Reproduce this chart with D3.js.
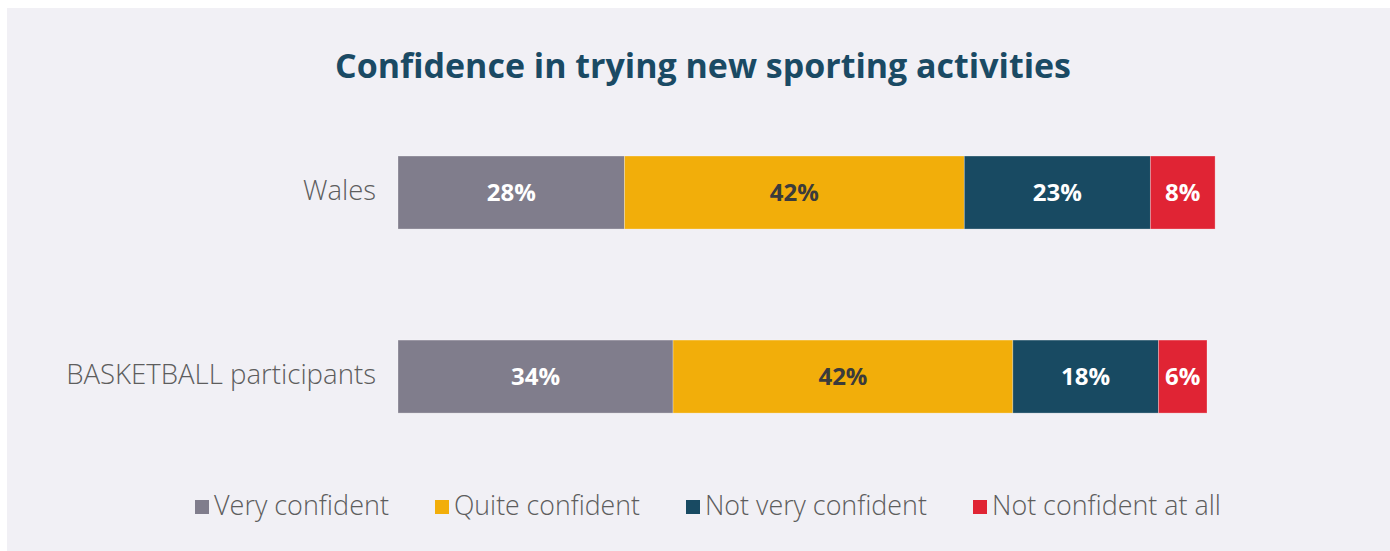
<!DOCTYPE html>
<html><head><meta charset="utf-8">
<script src="https://cdn.jsdelivr.net/npm/d3@7"></script>
<style>
html,body{margin:0;padding:0;background:#fff;}
svg{display:block;}
</style></head>
<body>
<svg id="chart" width="1390" height="551"></svg>
<script>
const title = "Confidence in trying new sporting activities";
const categories = ["Wales", "BASKETBALL participants"];
const seriesNames = ["Very confident", "Quite confident", "Not very confident", "Not confident at all"];
const seriesColors = ["#807d8c", "#f2ae0a", "#184a62", "#e02434"];
const labelColors = ["#ffffff", "#3b3b3b", "#ffffff", "#ffffff"];
const walesValues = [28, 42, 23, 8];
const basketballValues = [34, 42, 18, 6];
const valuesByCategory = [walesValues, basketballValues];

const svg = d3.select("#chart");
const W = 1390, H = 551;
const FONT = "'Open Sans', 'Noto Sans', sans-serif";

svg.append("rect").attr("x", 7).attr("y", 8).attr("width", W - 7).attr("height", H - 8).attr("fill", "#f1f0f5");

function fitText(sel, targetWidth) {
  const node = sel.node();
  const fs = parseFloat(sel.attr("font-size"));
  const w = node.getComputedTextLength();
  if (w > 0) sel.attr("font-size", fs * targetWidth / w);
  return sel;
}

// title
const t = svg.append("text").attr("x", 703).attr("y", 78).attr("text-anchor", "middle")
  .attr("font-family", FONT).attr("font-weight", 700).attr("font-size", 32)
  .attr("fill", "#1a4a64").text(title);
fitText(t, 736);

const x = d3.scaleLinear().domain([0, 100]).range([398, 1207]);
const y = d3.scaleBand().domain(categories).range([100.8, 468.3]).paddingInner(111 / 184).paddingOuter(0.3);

const stackData = categories.map((c, i) => {
  let acc = 0;
  return valuesByCategory[i].map((v, j) => {
    const d = {cat: c, s: j, v: v, x0: acc, x1: acc + v};
    acc += v;
    return d;
  });
});

const g = svg.append("g");
stackData.forEach(row => {
  g.selectAll(null).data(row).enter().append("rect")
    .attr("x", d => x(d.x0)).attr("y", d => y(d.cat))
    .attr("width", d => x(d.x1) - x(d.x0)).attr("height", y.bandwidth())
    .attr("fill", d => seriesColors[d.s])
    .attr("stroke", "rgba(255,255,255,0.35)").attr("stroke-width", 0.8);
  g.selectAll(null).data(row).enter().append("text")
    .attr("x", d => (x(d.x0) + x(d.x1)) / 2).attr("y", d => y(d.cat) + y.bandwidth() / 2 + 8.5)
    .attr("text-anchor", "middle").attr("font-family", FONT).attr("font-weight", 700)
    .attr("font-size", 24).attr("fill", d => labelColors[d.s])
    .text(d => d.v + "%");
});

// category labels
const catTargets = [73, 310];
categories.forEach((c, i) => {
  const tt = svg.append("text").attr("x", 376).attr("y", y(c) + y.bandwidth() / 2 + 7.5)
    .attr("text-anchor", "end").attr("font-family", FONT).attr("font-weight", 300)
    .attr("font-size", 22).attr("fill", "#5d5d5d").text(c);
  fitText(tt, catTargets[i]);
});

// legend
const legTargets = [175, 186, 222, 229];
let lx = 195;
seriesNames.forEach((n, i) => {
  svg.append("rect").attr("x", lx).attr("y", 500).attr("width", 14).attr("height", 14).attr("fill", seriesColors[i]);
  const tt = svg.append("text").attr("x", lx + 19).attr("y", 515)
    .attr("font-family", FONT).attr("font-weight", 300).attr("font-size", 22)
    .attr("fill", "#5d5d5d").text(n);
  fitText(tt, legTargets[i]);
  lx = lx + 19 + legTargets[i] + 46;
});
</script>
</body></html>
